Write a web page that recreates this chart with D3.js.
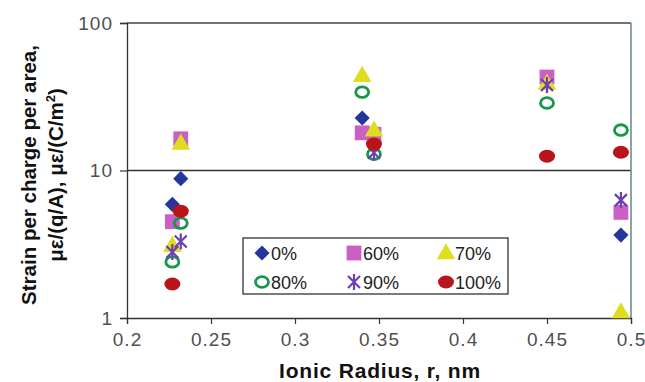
<!DOCTYPE html>
<html>
<head>
<meta charset="utf-8">
<script src="https://cdn.jsdelivr.net/npm/d3@7"></script>
<style>
  body { margin: 0; background: #fff; }
  text { font-family: "Liberation Sans", Arial, sans-serif; }
</style>
</head>
<body>
<div id="chart"></div>
<script>
// values: [ionic radius nm, strain per charge per area]
var pct0   = [[0.232, 8.8], [0.227, 5.9], [0.340, 22.7], [0.494, 3.65]];
var pct60  = [[0.232, 16.4], [0.227, 4.5], [0.340, 18.0], [0.347, 17.6], [0.450, 43], [0.494, 5.2]];
var pct70  = [[0.232, 15.3], [0.227, 3.1], [0.340, 44], [0.347, 18.8], [0.450, 39], [0.494, 1.1]];
var pct80  = [[0.232, 4.4], [0.227, 2.4], [0.340, 34], [0.347, 12.9], [0.450, 28.7], [0.494, 18.8]];
var pct90  = [[0.232, 3.3], [0.227, 2.8], [0.347, 13.2], [0.450, 38], [0.494, 6.3]];
var pct100 = [[0.232, 5.3], [0.227, 1.7], [0.347, 15.1], [0.450, 12.5], [0.494, 13.3]];

var seriesNames = ["0%", "60%", "70%", "80%", "90%", "100%"];
var xTicks = [0.2, 0.25, 0.3, 0.35, 0.4, 0.45, 0.5];
var yTicks = [1, 10, 100];

var width = 645, height = 382;
var margin = {top: 23, right: 14, bottom: 64, left: 127};

var svg = d3.select("#chart").append("svg")
  .attr("width", width)
  .attr("height", height);

var xx = d3.scaleLinear().domain([0.2, 0.5]).range([margin.left, width - margin.right]);
var yy = d3.scaleLog().domain([1, 100]).range([height - margin.bottom, margin.top]);

// marker styles per series
var styles = {
  "0%":   {type: "diamond",  color: "#25359a"},
  "60%":  {type: "square",   color: "#cc5fc4"},
  "70%":  {type: "triangle", color: "#dede1e"},
  "80%":  {type: "ring",     color: "#16984a"},
  "90%":  {type: "star",     color: "#6c3fb2"},
  "100%": {type: "ellipse",  color: "#b8141a"}
};

function drawMarker(g, name) {
  var st = styles[name];
  if (st.type == "diamond") {
    g.append("path").attr("d", d3.symbol(d3.symbolSquare, 115)())
      .attr("transform", "rotate(45)").attr("fill", st.color);
  } else if (st.type == "square") {
    g.append("path").attr("d", d3.symbol(d3.symbolSquare, 220)()).attr("fill", st.color);
  } else if (st.type == "triangle") {
    g.append("path").attr("d", d3.symbol(d3.symbolTriangle, 150)())
      .attr("transform", "translate(0,1)").attr("fill", st.color);
  } else if (st.type == "ring") {
    g.append("ellipse").attr("rx", 6.5).attr("ry", 5.3)
      .attr("fill", "none").attr("stroke", st.color).attr("stroke-width", 2.8);
  } else if (st.type == "star") {
    g.append("path").attr("d", "M-6,-6L6,6M-6,6L6,-6M0,-8L0,8")
      .attr("stroke", st.color).attr("stroke-width", 2.2).attr("fill", "none");
  } else {
    g.append("ellipse").attr("rx", 8).attr("ry", 6.5).attr("fill", st.color);
  }
}

// gridline at 10 and frame
svg.append("line")
  .attr("x1", xx(0.2)).attr("x2", xx(0.5))
  .attr("y1", yy(10)).attr("y2", yy(10))
  .attr("stroke", "#333").attr("stroke-width", 1.3);
svg.append("line")
  .attr("x1", xx(0.2)).attr("x2", xx(0.5))
  .attr("y1", yy(100)).attr("y2", yy(100))
  .attr("stroke", "#444").attr("stroke-width", 1.5);
svg.append("line")
  .attr("x1", xx(0.5)).attr("x2", xx(0.5))
  .attr("y1", yy(100)).attr("y2", yy(1))
  .attr("stroke", "#6a8f8c").attr("stroke-width", 1.6);

// axes
var yAxis = svg.append("g")
  .attr("transform", "translate(" + margin.left + ",0)")
  .call(d3.axisLeft(yy).tickValues(yTicks).tickFormat(d3.format("d")).tickSize(7).tickPadding(7));
var xAxis = svg.append("g")
  .attr("transform", "translate(0," + (height - margin.bottom) + ")")
  .call(d3.axisBottom(xx).tickValues(xTicks).tickFormat(function(d) { return String(d); })
    .tickSize(6).tickPadding(9));

[xAxis, yAxis].forEach(function(a) {
  a.select(".domain").attr("stroke", "#333").attr("stroke-width", 1.3);
  a.selectAll(".tick line").attr("stroke", "#333").attr("stroke-width", 1.2);
  a.selectAll(".tick text").attr("fill", "#505050")
    .style("font-size", "19px").style("letter-spacing", "1px")
    .style("font-family", "Liberation Sans, Arial, sans-serif");
});

// axis titles
svg.append("text")
  .attr("x", (xx(0.2) + xx(0.5)) / 2 + 1)
  .attr("y", 378)
  .attr("text-anchor", "middle")
  .style("font-size", "21px").style("font-weight", "bold").style("letter-spacing", "0.8px")
  .attr("fill", "#111")
  .text("Ionic Radius, r, nm");

var yt = svg.append("text")
  .attr("transform", "translate(36,175) rotate(-90)")
  .attr("text-anchor", "middle")
  .style("font-size", "20.5px").style("font-weight", "bold")
  .attr("fill", "#111");
yt.append("tspan").attr("x", 0).attr("y", 0).text("Strain per charge per area,");
yt.append("tspan").attr("x", 0).attr("y", 27).text("\u03bc\u03b5/(q/A), \u03bc\u03b5/(C/m");
yt.append("tspan").attr("dy", -8).style("font-size", "13px").text("2");
yt.append("tspan").attr("dy", 8).text(")");

// points
var allData = [pct0, pct60, pct70, pct80, pct90, pct100];
seriesNames.forEach(function(name, i) {
  svg.append("g").attr("class", "series")
    .selectAll("g").data(allData[i]).enter().append("g")
    .attr("transform", function(d) { return "translate(" + xx(d[0]) + "," + yy(d[1]) + ")"; })
    .each(function() { drawMarker(d3.select(this), name); });
});

// legend
var legend = svg.append("g").attr("transform", "translate(243,238)");
legend.append("rect")
  .attr("width", 265).attr("height", 56)
  .attr("fill", "#fff").attr("stroke", "#333").attr("stroke-width", 1.3);
seriesNames.forEach(function(name, i) {
  var col = i % 3, row = Math.floor(i / 3);
  var item = legend.append("g")
    .attr("transform", "translate(" + (19 + col * 92) + "," + (15 + row * 29) + ")");
  var m = item.append("g");
  drawMarker(m, name);
  item.append("text").attr("x", 9).attr("y", 6.5)
    .style("font-size", "18px").attr("fill", "#222")
    .text(name);
});
</script>
</body>
</html>
